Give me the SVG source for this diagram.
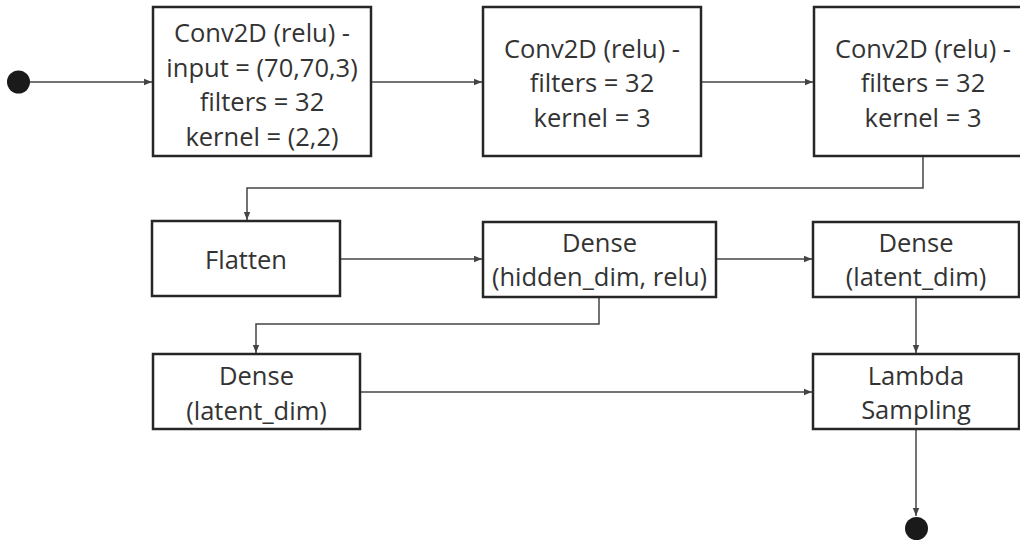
<svg xmlns="http://www.w3.org/2000/svg" width="1020" height="543" viewBox="0 0 1020 543">
  <style>
    .box { fill: #ffffff; stroke: #262626; stroke-width: 2.5; }
    .lbl { font-family: "Open Sans", "Noto Sans", "Liberation Sans", sans-serif; font-size: 25.5px; fill: #333333; text-anchor: middle; }
    .edge { fill: none; stroke: #444444; stroke-width: 1.5; marker-end: url(#arrow); }
    .dot { fill: #1a1a1a; }
  </style>
  <defs>
    <marker id="arrow" viewBox="0 0 10 10" refX="10" refY="5" markerWidth="8" markerHeight="8" markerUnits="userSpaceOnUse" orient="auto">
      <path d="M0,1 L10,5 L0,9 z" fill="#444444"/>
    </marker>
  </defs>
  <rect width="1020" height="543" fill="#ffffff"/>

  <g id="connectors">
    <path class="edge" d="M29,82 H152"/>
    <path class="edge" d="M371,82 H482"/>
    <path class="edge" d="M701,82 H813"/>
    <path class="edge" d="M923,157 V188 H247 V220"/>
    <path class="edge" d="M340,259 H482"/>
    <path class="edge" d="M716,259 H812"/>
    <path class="edge" d="M599,297 V324 H256 V353"/>
    <path class="edge" d="M916,297 V353"/>
    <path class="edge" d="M360,392 H812"/>
    <path class="edge" d="M916,429 V516"/>
  </g>

  <g id="start">
    <circle class="dot" cx="18.5" cy="82" r="11.5"/>
  </g>

  <g id="conv1">
    <rect class="box" x="153" y="7" width="218" height="149"/>
    <text class="lbl" x="262" y="42">Conv2D (relu) -</text>
    <text class="lbl" x="262" y="76.5">input = (70,70,3)</text>
    <text class="lbl" x="262" y="111">filters = 32</text>
    <text class="lbl" x="262" y="145.5">kernel = (2,2)</text>
  </g>

  <g id="conv2">
    <rect class="box" x="483" y="7" width="218" height="149"/>
    <text class="lbl" x="592" y="57.5">Conv2D (relu) -</text>
    <text class="lbl" x="592" y="92">filters = 32</text>
    <text class="lbl" x="592" y="126.5">kernel = 3</text>
  </g>

  <g id="conv3">
    <rect class="box" x="814" y="7" width="218" height="149"/>
    <text class="lbl" x="923" y="57.5">Conv2D (relu) -</text>
    <text class="lbl" x="923" y="92">filters = 32</text>
    <text class="lbl" x="923" y="126.5">kernel = 3</text>
  </g>

  <g id="flatten">
    <rect class="box" x="152" y="221" width="188" height="75"/>
    <text class="lbl" x="246" y="269">Flatten</text>
  </g>

  <g id="dense-hidden">
    <rect class="box" x="483" y="222" width="233" height="75"/>
    <text class="lbl" x="599.5" y="251.5">Dense</text>
    <text class="lbl" x="599.5" y="285.5">(hidden_dim, relu)</text>
  </g>

  <g id="dense-latent-mean">
    <rect class="box" x="813" y="222" width="206" height="75"/>
    <text class="lbl" x="916" y="251.5">Dense</text>
    <text class="lbl" x="916" y="285.5">(latent_dim)</text>
  </g>

  <g id="dense-latent-var">
    <rect class="box" x="153" y="354" width="207" height="75"/>
    <text class="lbl" x="256.5" y="385">Dense</text>
    <text class="lbl" x="256.5" y="419.5">(latent_dim)</text>
  </g>

  <g id="lambda-sampling">
    <rect class="box" x="813" y="354" width="206" height="75"/>
    <text class="lbl" x="916" y="384.5">Lambda</text>
    <text class="lbl" x="916" y="419">Sampling</text>
  </g>

  <g id="end">
    <circle class="dot" cx="916.5" cy="528.5" r="11.5"/>
  </g>
</svg>
